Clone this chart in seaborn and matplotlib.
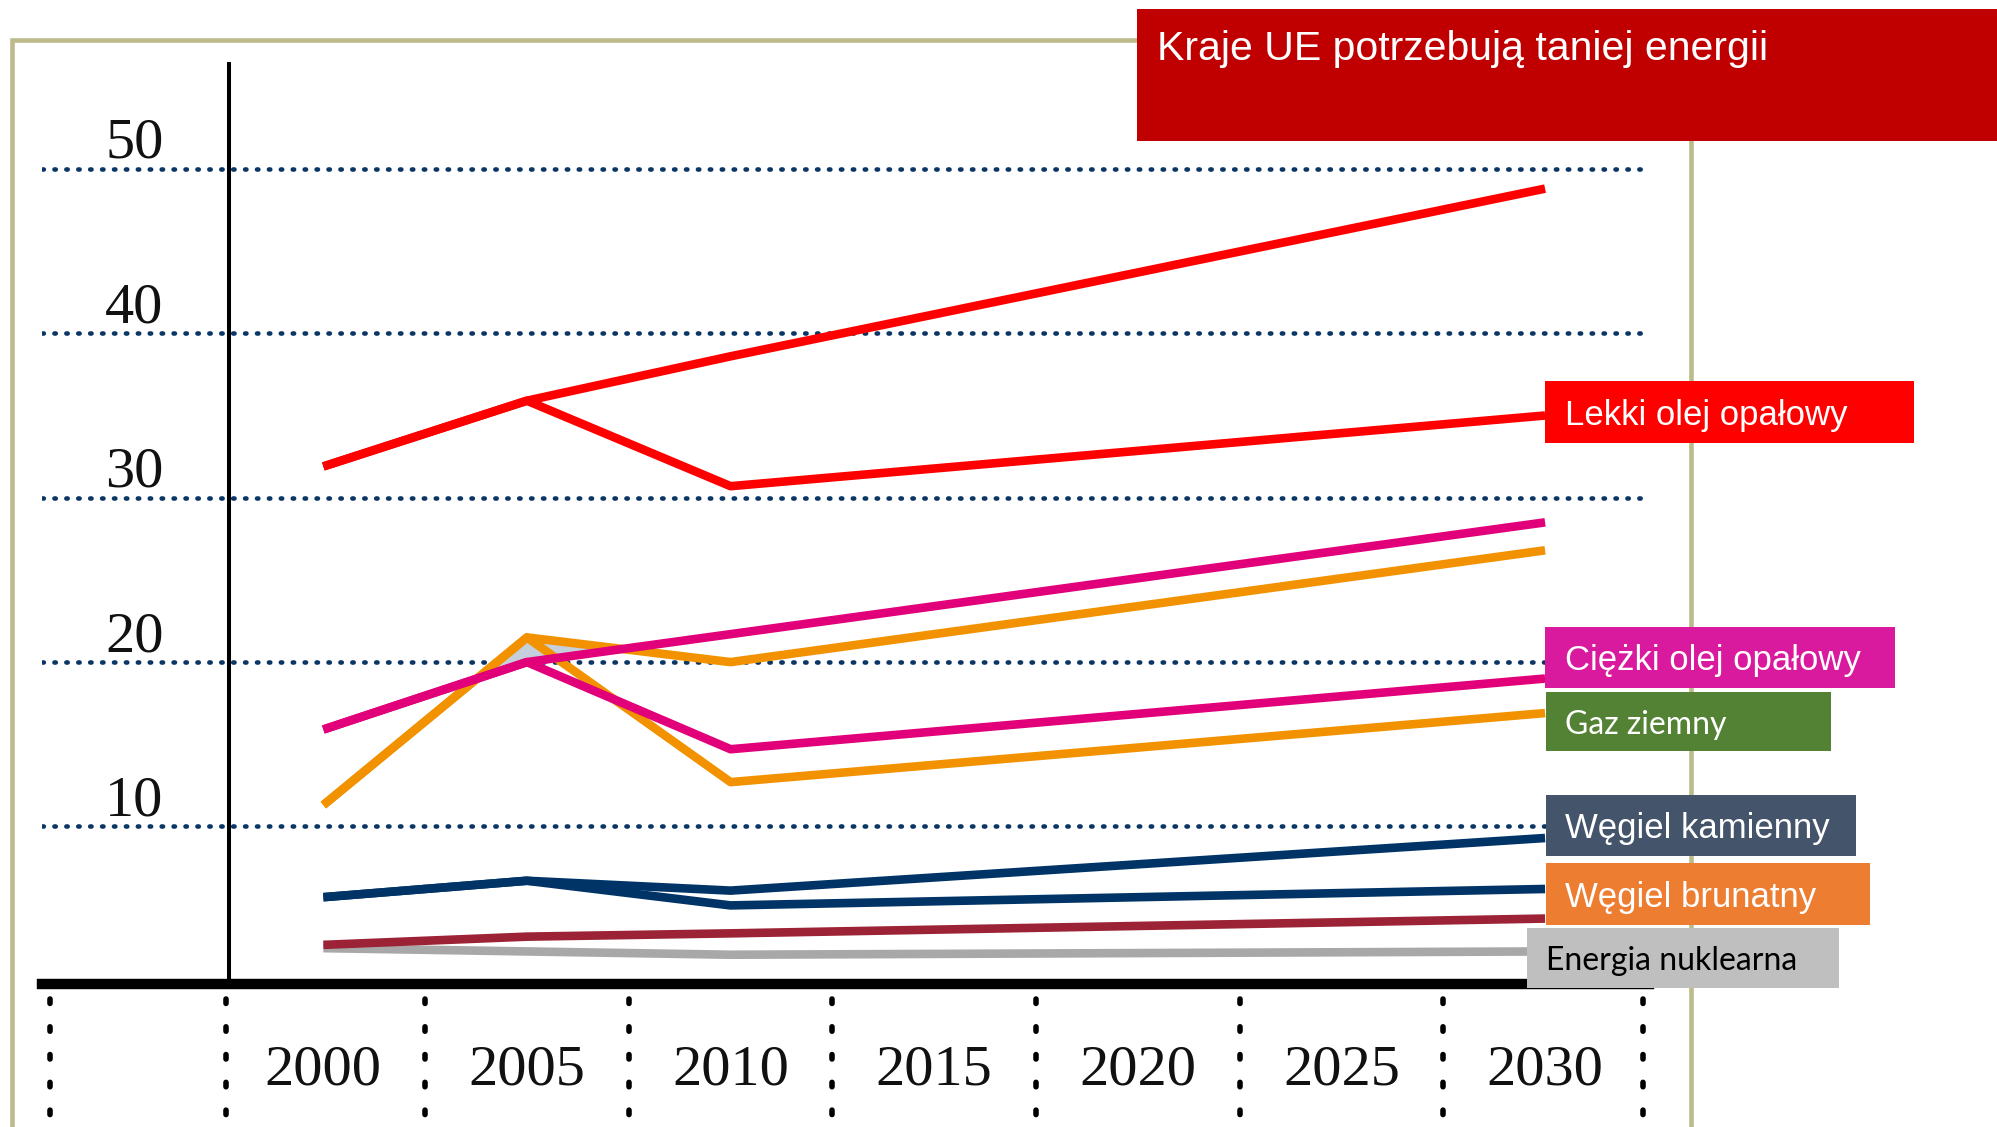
import matplotlib
matplotlib.use('Agg')
import matplotlib.pyplot as plt
from matplotlib.patches import Rectangle
from matplotlib.transforms import ScaledTranslation, blended_transform_factory
import seaborn as sns
import pandas as pd

# Data (cena, lata 2000-2030)
years = [2000, 2005, 2010, 2030]
lekki_wysoki = [31.9, 35.9, 38.6, 48.8]
lekki_niski = [31.9, 35.9, 30.7, 35.0]
ciezki_wysoki = [15.9, 20.0, 21.7, 28.5]
ciezki_niski = [15.9, 20.0, 14.7, 19.0]
gaz_wysoki = [11.3, 21.5, 20.0, 26.8]
gaz_niski = [11.3, 21.5, 12.7, 16.9]
kamienny_wysoki = [5.7, 6.7, 6.1, 9.3]
kamienny_niski = [5.7, 6.7, 5.2, 6.2]
brunatny = [2.8, 3.3, 3.5, 4.4]
nuklearna = [2.6, 2.4, 2.2, 2.4]

y_ticks = [10, 20, 30, 40, 50]
x_ticks = [2000, 2005, 2010, 2015, 2020, 2025, 2030]
separators = [1993.3, 1997.6, 2002.5, 2007.5, 2012.5, 2017.5, 2022.5, 2027.5, 2032.4]

title = 'Kraje UE potrzebują taniej energii'
labels = ['Lekki olej opałowy', 'Ciężki olej opałowy', 'Gaz ziemny',
          'Węgiel kamienny', 'Węgiel brunatny', 'Energia nuklearna']

series = {
    'gaz_w': gaz_wysoki, 'gaz_n': gaz_niski,
    'ciezki_w': ciezki_wysoki, 'ciezki_n': ciezki_niski,
    'kam_w': kamienny_wysoki, 'kam_n': kamienny_niski,
    'nukl': nuklearna, 'brun': brunatny,
    'lekki_w': lekki_wysoki, 'lekki_n': lekki_niski,
}
palette = {
    'gaz_w': '#F39200', 'gaz_n': '#F39200',
    'ciezki_w': '#E2007A', 'ciezki_n': '#E2007A',
    'kam_w': '#003366', 'kam_n': '#003366',
    'nukl': '#A8A8A8', 'brun': '#9B2335',
    'lekki_w': '#FF0000', 'lekki_n': '#FF0000',
}

rows = []
for name, vals in series.items():
    for yr, v in zip(years, vals):
        rows.append({'rok': yr, 'cena': v, 'seria': name})
df = pd.DataFrame(rows)

sns.set_style('white')
plt.rcParams['font.family'] = ['Liberation Sans', 'DejaVu Sans']

W, H = 1997, 1127
fig = plt.figure(figsize=(W / 100, H / 100), dpi=100)
ax = fig.add_axes([0.021, 0.1266, 0.8049, 0.8169])
ax.set_facecolor('none')

# small shaded area between gas and heavy oil near 2005
x0 = years[:3]
g = pd.Series(gaz_wysoki[:3])
c = pd.Series(ciezki_wysoki[:3])
ax.fill_between(x0, g, c, where=(g >= c).tolist(), interpolate=True,
                color='#C6CFDC', linewidth=0, zorder=1.5)

sns.lineplot(data=df, x='rok', y='cena', hue='seria', hue_order=list(series),
             palette=palette, linewidth=6.2, legend=False, estimator=None,
             sort=False, ax=ax, zorder=2)
for ln in ax.lines:
    ln.set_solid_capstyle('butt')

ax.set_xlim(1993.09, 2032.56)
ax.set_ylim(0.4, 56.4)
ax.set_xticks(x_ticks)
ax.set_yticks(y_ticks)
ax.set_xlabel('')
ax.set_ylabel('')

for s in ['top', 'right']:
    ax.spines[s].set_visible(False)
ax.spines['left'].set_position(('data', 1997.68))
ax.spines['left'].set_linewidth(2.9)
ax.spines['left'].set_color('black')
ax.spines['bottom'].set_linewidth(7.5)
ax.spines['bottom'].set_color('black')

ax.tick_params(axis='both', length=0, labelsize=42)
ax.tick_params(axis='y', pad=47)
ax.tick_params(axis='x', pad=43)
for lab in ax.get_xticklabels() + ax.get_yticklabels():
    lab.set_fontfamily('Liberation Serif')
    lab.set_color('#111111')
for lab in ax.get_yticklabels():
    lab.set_transform(lab.get_transform() + ScaledTranslation(0, 0.31, fig.dpi_scale_trans))

ax.yaxis.grid(True, color='#0A3564', linestyle=(0, (0.3, 2.3)), linewidth=3.3,
              dash_capstyle='round')
ax.xaxis.grid(False)
ax.set_axisbelow(True)

trans = blended_transform_factory(ax.transData, ax.transAxes)
for s in separators:
    ax.plot([s, s], [-0.016, -0.17], transform=trans, color='black', lw=4.0,
            linestyle=(0, (0.8, 4.2)), dash_capstyle='round', clip_on=False)


def px_rect(x0, y0, x1, y1, color, z=2):
    r = Rectangle((x0 / W, 1 - y1 / H), (x1 - x0) / W, (y1 - y0) / H,
                  transform=fig.transFigure, facecolor=color, edgecolor='none',
                  zorder=z)
    fig.add_artist(r)


# khaki frame
frame = Rectangle((12 / W, -0.05), (1691 - 12) / W, 1 - 40 / H + 0.05,
                  transform=fig.transFigure, fill=False, edgecolor='#BDBA8C',
                  linewidth=3.3, zorder=0.5)
fig.add_artist(frame)

# title box
px_rect(1137, 9, W, 141, '#C00000')
fig.text(1157 / W, 1 - 60 / H, title, color='white', fontsize=29.5,
         va='baseline', ha='left', zorder=3)

# label boxes
boxes = [
    (1545, 381, 1914, 443, '#FF0000', 'white', 'Liberation Sans', 25, 1565),
    (1545, 627, 1895, 688, '#DA1A9E', 'white', 'Liberation Sans', 25, 1565),
    (1546, 692, 1831, 751, '#548235', 'white', 'Lato', 23, 1565),
    (1546, 795, 1856, 856, '#44546A', 'white', 'Liberation Sans', 25, 1565),
    (1546, 863, 1870, 925, '#ED7D31', 'white', 'Liberation Sans', 25, 1565),
    (1527, 928, 1839, 988, '#BFBFBF', 'black', 'Lato', 23, 1546),
]
for (bx0, by0, bx1, by1, fc, tc, fam, fs, tx), text in zip(boxes, labels):
    px_rect(bx0, by0, bx1, by1, fc)
    fig.text(tx / W, 1 - (by0 + by1) / 2 / H - 0.003, text, color=tc, fontsize=fs,
             family=[fam, 'DejaVu Sans'], va='center', ha='left', zorder=3)

fig.savefig('out.png', dpi=100)
